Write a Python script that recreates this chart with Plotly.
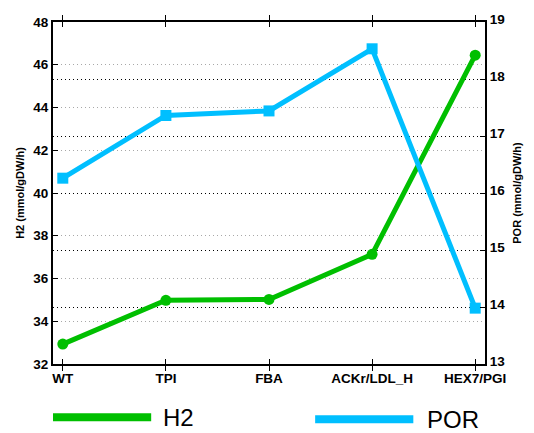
import plotly.graph_objects as go

categories = ["WT", "TPI", "FBA", "ACKr/LDL_H", "HEX7/PGI"]
h2_values = [32.93, 34.98, 35.02, 37.13, 46.45]
por_values = [16.26, 17.36, 17.44, 18.53, 13.98]

h2_ticks = [32, 34, 36, 38, 40, 42, 44, 46, 48]
por_ticks = [13, 14, 15, 16, 17, 18, 19]

green = "#00BF00"
blue = "#00BFFF"
font_family = "Liberation Sans, Arial, sans-serif"
x = list(range(len(categories)))

fig = go.Figure()
fig.add_trace(go.Scatter(
    x=x, y=h2_values, name="H2", mode="lines+markers",
    line=dict(color=green, width=5),
    marker=dict(symbol="circle", size=11, color=green),
    yaxis="y", showlegend=False,
))
fig.add_trace(go.Scatter(
    x=x, y=por_values, name="POR", mode="lines+markers",
    line=dict(color=blue, width=5),
    marker=dict(symbol="square", size=11, color=blue),
    yaxis="y2", showlegend=False,
))

tick_font = dict(family=font_family, size=13.5, color="black", weight="bold")
title_font = dict(family=font_family, size=11, color="black", weight="bold")

fig.update_layout(
    width=534, height=433,
    margin=dict(l=53, r=41, t=17, b=69),
    paper_bgcolor="white", plot_bgcolor="white",
    xaxis=dict(
        range=[-0.095, 4.095], tickmode="array", tickvals=x, ticktext=categories,
        ticks="inside", ticklen=5, tickcolor="black", tickfont=tick_font,
        ticklabelstandoff=1,
        showline=True, linecolor="black", linewidth=2, mirror="allticks",
        showgrid=False, zeroline=False,
    ),
    yaxis=dict(
        range=[32, 48], tickmode="array", tickvals=h2_ticks,
        ticks="inside", ticklen=5, tickcolor="black", tickfont=tick_font,
        showline=True, linecolor="black", linewidth=2,
        showgrid=True, gridcolor="#a8a8a8", griddash="1px,3px", gridwidth=1,
        zeroline=False,
        title=dict(text="H2 (mmol/gDW/h)", font=title_font, standoff=6),
    ),
    yaxis2=dict(
        range=[13, 19], tickmode="array", tickvals=por_ticks,
        overlaying="y", side="right",
        ticks="inside", ticklen=5, tickcolor="black", tickfont=tick_font,
        ticklabelshift=-3,
        showline=True, linecolor="black", linewidth=2,
        showgrid=True, gridcolor="black", griddash="1px,3px", gridwidth=1,
        zeroline=False,
        title=dict(text="POR (mmol/gDW/h)", font=title_font, standoff=9),
    ),
)

# Legend drawn below the axes: a thick line sample followed by the series name
legend_items = [("H2", green, 53, 153, 418, 164), ("POR", blue, 320, 420, 420, 433)]
for name, color, x0, x1, ypix, xtext in legend_items:
    yp = 1 - (ypix - 17) / 347
    fig.add_shape(
        type="line", xref="paper", yref="paper",
        x0=(x0 - 53) / 440, x1=(x1 - 53) / 440, y0=yp, y1=yp,
        line=dict(color=color, width=8),
    )
    fig.add_annotation(
        xref="paper", yref="paper", x=(xtext - 53) / 440, y=yp,
        text=name, showarrow=False, xanchor="left", yanchor="middle",
        borderpad=0,
        font=dict(family=font_family, size=24, color="black"),
    )

fig.write_html("out.html")
